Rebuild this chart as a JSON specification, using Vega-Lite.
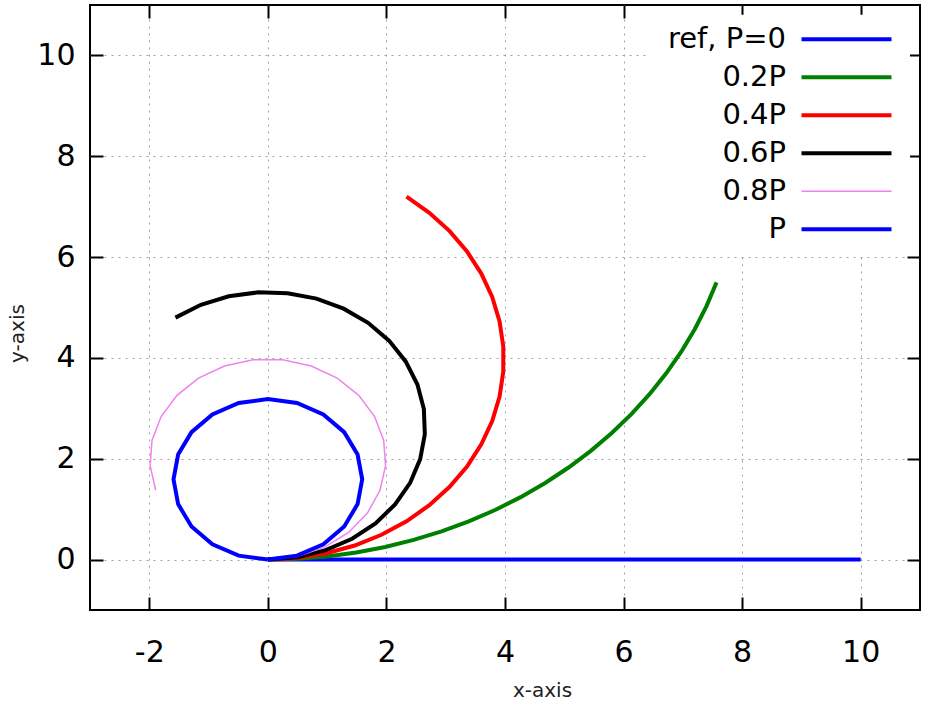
{
  "$schema": "https://vega.github.io/schema/vega-lite/v6.json",
  "width": 830,
  "height": 605,
  "autosize": "none",
  "padding": {"left": 90, "top": 5, "right": 5, "bottom": 94},
  "background": "white",
  "config": {
    "view": {"stroke": "black", "strokeWidth": 2},
    "axis": {"labelFont": "DejaVu Sans", "titleFont": "DejaVu Sans", "labelColor": "black", "tickColor": "black", "tickWidth": 2, "domain": false, "gridColor": "#a0a0a0", "gridDash": [2, 5], "gridWidth": 1, "gridOpacity": 1}
  },
  "data": {"values": [
    {"s":"ref, P=0","i":0,"x":0,"y":0},{"s":"ref, P=0","i":1,"x":0.5,"y":0},{"s":"ref, P=0","i":2,"x":1,"y":0},{"s":"ref, P=0","i":3,"x":1.5,"y":0},{"s":"ref, P=0","i":4,"x":2,"y":0},{"s":"ref, P=0","i":5,"x":2.5,"y":0},{"s":"ref, P=0","i":6,"x":3,"y":0},{"s":"ref, P=0","i":7,"x":3.5,"y":0},{"s":"ref, P=0","i":8,"x":4,"y":0},{"s":"ref, P=0","i":9,"x":4.5,"y":0},{"s":"ref, P=0","i":10,"x":5,"y":0},{"s":"ref, P=0","i":11,"x":5.5,"y":0},{"s":"ref, P=0","i":12,"x":6,"y":0},{"s":"ref, P=0","i":13,"x":6.5,"y":0},{"s":"ref, P=0","i":14,"x":7,"y":0},{"s":"ref, P=0","i":15,"x":7.5,"y":0},{"s":"ref, P=0","i":16,"x":8,"y":0},{"s":"ref, P=0","i":17,"x":8.5,"y":0},{"s":"ref, P=0","i":18,"x":9,"y":0},{"s":"ref, P=0","i":19,"x":9.5,"y":0},{"s":"ref, P=0","i":20,"x":10,"y":0},
    {"s":"0.2P","i":0,"x":0,"y":0},{"s":"0.2P","i":1,"x":0.4997,"y":0.0157},{"s":"0.2P","i":2,"x":0.9973,"y":0.0628},{"s":"0.2P","i":3,"x":1.4911,"y":0.1409},{"s":"0.2P","i":4,"x":1.979,"y":0.25},{"s":"0.2P","i":5,"x":2.4591,"y":0.3896},{"s":"0.2P","i":6,"x":2.9294,"y":0.5588},{"s":"0.2P","i":7,"x":3.3882,"y":0.7573},{"s":"0.2P","i":8,"x":3.8336,"y":0.9842},{"s":"0.2P","i":9,"x":4.264,"y":1.2389},{"s":"0.2P","i":10,"x":4.6775,"y":1.5198},{"s":"0.2P","i":11,"x":5.0724,"y":1.8263},{"s":"0.2P","i":12,"x":5.4474,"y":2.1568},{"s":"0.2P","i":13,"x":5.801,"y":2.5103},{"s":"0.2P","i":14,"x":6.1316,"y":2.8852},{"s":"0.2P","i":15,"x":6.4379,"y":3.2803},{"s":"0.2P","i":16,"x":6.7189,"y":3.694},{"s":"0.2P","i":17,"x":6.9734,"y":4.1241},{"s":"0.2P","i":18,"x":7.2004,"y":4.5695},{"s":"0.2P","i":19,"x":7.3989,"y":5.0283},{"s":"0.2P","i":20,"x":7.5682,"y":5.4986},
    {"s":"0.4P","i":0,"x":0,"y":0},{"s":"0.4P","i":1,"x":0.4987,"y":0.0314},{"s":"0.4P","i":2,"x":0.9895,"y":0.125},{"s":"0.4P","i":3,"x":1.4647,"y":0.2794},{"s":"0.4P","i":4,"x":1.9168,"y":0.4921},{"s":"0.4P","i":5,"x":2.3388,"y":0.7599},{"s":"0.4P","i":6,"x":2.7238,"y":1.0784},{"s":"0.4P","i":7,"x":3.0658,"y":1.4427},{"s":"0.4P","i":8,"x":3.3595,"y":1.8469},{"s":"0.4P","i":9,"x":3.6002,"y":2.2848},{"s":"0.4P","i":10,"x":3.7842,"y":2.7493},{"s":"0.4P","i":11,"x":3.9084,"y":3.2333},{"s":"0.4P","i":12,"x":3.9711,"y":3.7291},{"s":"0.4P","i":13,"x":3.9711,"y":4.2287},{"s":"0.4P","i":14,"x":3.9084,"y":4.7245},{"s":"0.4P","i":15,"x":3.7842,"y":5.2085},{"s":"0.4P","i":16,"x":3.6002,"y":5.673},{"s":"0.4P","i":17,"x":3.3595,"y":6.1109},{"s":"0.4P","i":18,"x":3.0658,"y":6.5151},{"s":"0.4P","i":19,"x":2.7238,"y":6.8794},{"s":"0.4P","i":20,"x":2.3388,"y":7.1979},
    {"s":"0.6P","i":0,"x":0,"y":0},{"s":"0.6P","i":1,"x":0.497,"y":0.047},{"s":"0.6P","i":2,"x":0.9765,"y":0.1863},{"s":"0.6P","i":3,"x":1.4213,"y":0.4129},{"s":"0.6P","i":4,"x":1.8158,"y":0.7189},{"s":"0.6P","i":5,"x":2.146,"y":1.0934},{"s":"0.6P","i":6,"x":2.4002,"y":1.5232},{"s":"0.6P","i":7,"x":2.5693,"y":1.9929},{"s":"0.6P","i":8,"x":2.6474,"y":2.486},{"s":"0.6P","i":9,"x":2.6316,"y":2.985},{"s":"0.6P","i":10,"x":2.5228,"y":3.4723},{"s":"0.6P","i":11,"x":2.3245,"y":3.9305},{"s":"0.6P","i":12,"x":2.0439,"y":4.3434},{"s":"0.6P","i":13,"x":1.6908,"y":4.6965},{"s":"0.6P","i":14,"x":1.2779,"y":4.9771},{"s":"0.6P","i":15,"x":0.8197,"y":5.1754},{"s":"0.6P","i":16,"x":0.3325,"y":5.2842},{"s":"0.6P","i":17,"x":-0.1666,"y":5.3},{"s":"0.6P","i":18,"x":-0.6597,"y":5.2219},{"s":"0.6P","i":19,"x":-1.1294,"y":5.0528},{"s":"0.6P","i":20,"x":-1.5592,"y":4.7986},
    {"s":"0.8P","i":0,"x":0,"y":0},{"s":"0.8P","i":1,"x":0.4947,"y":0.0625},{"s":"0.8P","i":2,"x":0.9584,"y":0.2461},{"s":"0.8P","i":3,"x":1.3618,"y":0.5392},{"s":"0.8P","i":4,"x":1.6797,"y":0.9234},{"s":"0.8P","i":5,"x":1.892,"y":1.3746},{"s":"0.8P","i":6,"x":1.9855,"y":1.8645},{"s":"0.8P","i":7,"x":1.9542,"y":2.3622},{"s":"0.8P","i":8,"x":1.8001,"y":2.8365},{"s":"0.8P","i":9,"x":1.5329,"y":3.2575},{"s":"0.8P","i":10,"x":1.1693,"y":3.5989},{"s":"0.8P","i":11,"x":0.7323,"y":3.8391},{"s":"0.8P","i":12,"x":0.2493,"y":3.9631},{"s":"0.8P","i":13,"x":-0.2493,"y":3.9631},{"s":"0.8P","i":14,"x":-0.7323,"y":3.8391},{"s":"0.8P","i":15,"x":-1.1693,"y":3.5989},{"s":"0.8P","i":16,"x":-1.5329,"y":3.2575},{"s":"0.8P","i":17,"x":-1.8001,"y":2.8365},{"s":"0.8P","i":18,"x":-1.9542,"y":2.3622},{"s":"0.8P","i":19,"x":-1.9855,"y":1.8645},{"s":"0.8P","i":20,"x":-1.892,"y":1.3746},
    {"s":"P","i":0,"x":0,"y":0},{"s":"P","i":1,"x":0.4918,"y":0.0779},{"s":"P","i":2,"x":0.9355,"y":0.304},{"s":"P","i":3,"x":1.2876,"y":0.656},{"s":"P","i":4,"x":1.5136,"y":1.0997},{"s":"P","i":5,"x":1.5915,"y":1.5915},{"s":"P","i":6,"x":1.5136,"y":2.0833},{"s":"P","i":7,"x":1.2876,"y":2.527},{"s":"P","i":8,"x":0.9355,"y":2.879},{"s":"P","i":9,"x":0.4918,"y":3.1051},{"s":"P","i":10,"x":0,"y":3.183},{"s":"P","i":11,"x":-0.4918,"y":3.1051},{"s":"P","i":12,"x":-0.9355,"y":2.879},{"s":"P","i":13,"x":-1.2876,"y":2.527},{"s":"P","i":14,"x":-1.5136,"y":2.0833},{"s":"P","i":15,"x":-1.5915,"y":1.5915},{"s":"P","i":16,"x":-1.5136,"y":1.0997},{"s":"P","i":17,"x":-1.2876,"y":0.656},{"s":"P","i":18,"x":-0.9355,"y":0.304},{"s":"P","i":19,"x":-0.4918,"y":0.0779},{"s":"P","i":20,"x":0,"y":0}
  ]},
  "encoding": {
    "order": {"field": "i", "type": "quantitative"},
    "color": {
      "field": "s", "type": "nominal",
      "scale": {"domain": ["ref, P=0","0.2P","0.4P","0.6P","0.8P","P"], "range": ["#0000ff","#008000","#ff0000","#000000","#ee82ee","#0000ff"]},
      "legend": {"title": null, "orient": "none", "legendX": 560, "legendY": 9.75, "symbolType": "M-4,0H4", "symbolSize": 506.25, "labelAlign": "right", "labelOffset": -75, "symbolOffset": 172, "labelFontSize": 29, "labelFont": "DejaVu Sans", "labelColor": "black", "rowPadding": 8, "padding": 10, "fillColor": "white", "labelLimit": 400}
    },
    "strokeWidth": {
      "field": "s", "type": "nominal",
      "scale": {"type": "ordinal", "domain": ["ref, P=0","0.2P","0.4P","0.6P","0.8P","P"], "range": [4,4,4,4,1.5,4]},
      "legend": {"title": null, "orient": "none", "legendX": 560, "legendY": 9.75, "symbolType": "M-4,0H4", "symbolSize": 506.25, "labelAlign": "right", "labelOffset": -75, "symbolOffset": 172, "labelFontSize": 29, "labelFont": "DejaVu Sans", "labelColor": "black", "rowPadding": 8, "padding": 10, "fillColor": "white", "labelLimit": 400}
    }
  },
  "layer": [
    {
      "transform": [{"filter": "datum.s == 'ref, P=0'"}],
      "mark": {"type": "line", "clip": true},
      "encoding": {
        "x": {"field": "x", "type": "quantitative", "scale": {"domain": [-3, 11], "nice": false, "zero": false},
              "axis": {"orient": "top", "values": [-2,0,2,4,6,8,10], "labels": false, "grid": false, "tickSize": -13, "title": null}},
        "y": {"field": "y", "type": "quantitative", "scale": {"domain": [-1, 11], "nice": false, "zero": false},
              "axis": {"orient": "right", "values": [0,2,4,6,8,10], "labels": false, "grid": false, "tickSize": -13, "title": null}}
      }
    },
    {
      "transform": [{"filter": "datum.s != 'ref, P=0'"}],
      "mark": {"type": "line", "clip": true},
      "encoding": {
        "x": {"field": "x", "type": "quantitative", "scale": {"domain": [-3, 11], "nice": false, "zero": false},
              "axis": {"orient": "bottom", "values": [-2,0,2,4,6,8,10], "labelExpr": "toString(datum.value)", "grid": true, "tickSize": -13, "labelPadding": 40, "labelFontSize": 30, "title": "x-axis", "titleFontSize": 20, "titleFontWeight": "normal", "titleColor": "#222222", "titleX": 452, "titleY": 80, "titleBaseline": "middle", "titleAlign": "center"}},
        "y": {"field": "y", "type": "quantitative", "scale": {"domain": [-1, 11], "nice": false, "zero": false},
              "axis": {"orient": "left", "values": [0,2,4,6,8,10], "labelExpr": "toString(datum.value)", "grid": true, "tickSize": -13, "labelPadding": 28, "labelFontSize": 30, "title": "y-axis", "titleFontSize": 20, "titleFontWeight": "normal", "titleColor": "#222222", "titleX": -73, "titleY": 328, "titleBaseline": "middle", "titleAlign": "center", "titleAngle": -90}}
      }
    }
  ],
  "resolve": {"axis": {"x": "independent", "y": "independent"}}
}
